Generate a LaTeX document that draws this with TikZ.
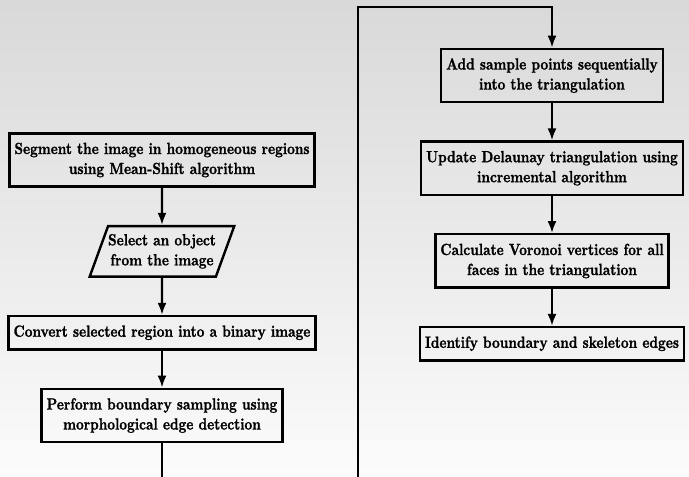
\documentclass[tikz,border=0pt]{standalone}
\usepackage{fontspec}
\usepackage{tikz}
\usetikzlibrary{shapes.geometric,positioning,arrows.meta}
\newfontfamily\boxfont{lmroman10-bold.otf}[FakeStretch=0.83,FakeBold=1.2]

\begin{document}
\begin{tikzpicture}[x=1pt,y=-1pt,node distance=37pt,auto,>={Latex[length=12pt,width=9pt]},
    font=\boxfont\fontsize{16.2}{20}\selectfont,
    block/.style={draw,line width=2.4pt,align=center,inner xsep=5pt,inner ysep=9.4pt},
    io/.style={draw,line width=2.4pt,align=center,trapezium,trapezium left angle=70,
        trapezium right angle=110,inner xsep=0pt,inner ysep=8pt},
    link/.style={line width=2.2pt}]
    \useasboundingbox (0,0) rectangle (689,477);
    \shade[top color=gray!30,bottom color=gray!3] (0,0) rectangle (689,477);
    % left column
    \node[block] (seg) at (162,160) {Segment the image in homogeneous regions\\using Mean-Shift algorithm};
    \node[io,below=of seg] (sel) {Select an object\\from the image};
    \node[block,below=of sel] (bin) {Convert selected region into a binary image};
    \node[block,below=of bin] (samp) {Perform boundary sampling using\\morphological edge detection};
    \coordinate (outl) at (162,477);
    % right column
    \node[block] (add) at (552,75.5) {Add sample points sequentially\\into the triangulation};
    \node[block,below=of add] (upd) {Update Delaunay triangulation using\\incremental algorithm};
    \node[block,below=of upd] (vor) {Calculate Voronoi vertices for all\\faces in the triangulation};
    \node[block,below=of vor] (idf) {Identify boundary and skeleton edges};
    \coordinate (outr) at (358,477);
    \coordinate (turn) at (358,7);
    % connectors
    \path[->,link] (seg) edge (sel);
    \path[->,link] (sel) edge (bin);
    \path[->,link] (bin) edge (samp);
    \draw[link] (samp) -- (outl);
    \draw[->,link] (outr) -- (turn) -| (add);
    \path[->,link] (add) edge (upd);
    \path[->,link] (upd) edge (vor);
    \path[->,link] (vor) edge (idf);
\end{tikzpicture}
\end{document}
